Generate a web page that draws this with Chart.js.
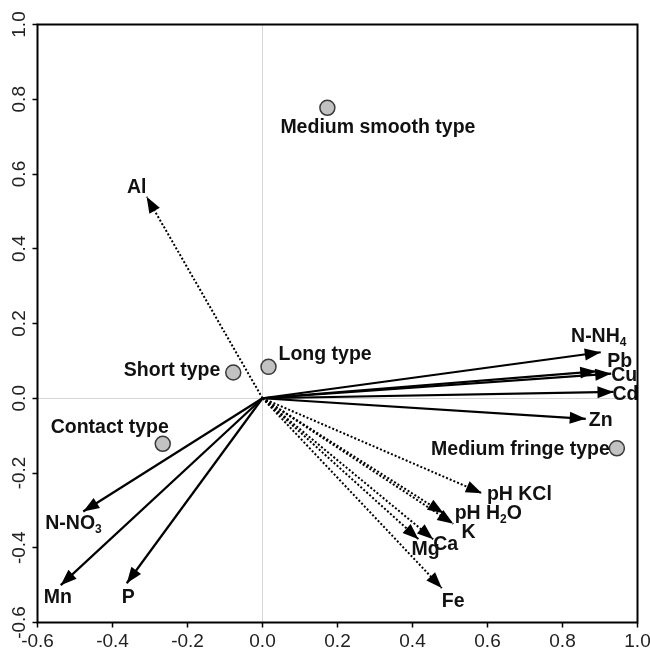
<!DOCTYPE html>
<html>
<head>
<meta charset="utf-8">
<script src="https://cdn.jsdelivr.net/npm/chart.js@4/dist/chart.umd.min.js"></script>
<style>
  html, body { margin: 0; padding: 0; background: #fff; }
  #wrap { width: 650px; height: 653px; }
</style>
</head>
<body>
<div id="wrap"><canvas id="biplot" width="650" height="653"></canvas></div>
<script>
// Ordination axes: tick labels
const tickValues = [-0.6, -0.4, -0.2, 0.0, 0.2, 0.4, 0.6, 0.8, 1.0];

// Environmental variables drawn with solid arrows
const solidNames = ['N-NH4', 'Pb', 'Cu', 'Cd', 'Zn', 'N-NO3', 'Mn', 'P'];
const solidX = [0.902, 0.890, 0.930, 0.936, 0.862, -0.478, -0.538, -0.362];
const solidY = [0.123, 0.072, 0.066, 0.017, -0.055, -0.303, -0.500, -0.495];

// Environmental variables drawn with dotted arrows
const dottedNames = ['Al', 'pH KCl', 'pH H2O', 'K', 'Ca', 'Mg', 'Fe'];
const dottedX = [-0.309, 0.585, 0.483, 0.509, 0.455, 0.416, 0.478];
const dottedY = [0.539, -0.254, -0.308, -0.336, -0.377, -0.377, -0.508];

// Root types (site scores)
const typeNames = ['Medium smooth type', 'Short type', 'Long type', 'Contact type', 'Medium fringe type'];
const typeX = [0.173, -0.078, 0.016, -0.266, 0.945];
const typeY = [0.777, 0.069, 0.084, -0.122, -0.134];

// Label placement relative to arrow tip / point centre (pixels, baseline)
const labelLayout = {
  'N-NH4': { align: 'center', dx: -2, dy: -10 },
  'Pb': { align: 'left', dx: 11, dy: -4 },
  'Cu': { align: 'left', dx: 0, dy: 7 },
  'Cd': { align: 'left', dx: -1, dy: 8 },
  'Zn': { align: 'left', dx: 3, dy: 7 },
  'N-NO3': { align: 'left', dx: -38, dy: 18 },
  'Mn': { align: 'left', dx: -17, dy: 18 },
  'P': { align: 'left', dx: -5, dy: 20 },
  'Al': { align: 'center', dx: -10, dy: -4 },
  'pH KCl': { align: 'left', dx: 5, dy: 7 },
  'pH H2O': { align: 'left', dx: 11, dy: 6 },
  'K': { align: 'left', dx: 8, dy: 14 },
  'Ca': { align: 'left', dx: 0, dy: 11 },
  'Mg': { align: 'left', dx: -7, dy: 16 },
  'Fe': { align: 'left', dx: 0, dy: 19 },
  'Medium smooth type': { align: 'left', dx: -47, dy: 25 },
  'Short type': { align: 'right', dx: -13, dy: 4 },
  'Long type': { align: 'left', dx: 10, dy: -7 },
  'Contact type': { align: 'right', dx: 6, dy: -11 },
  'Medium fringe type': { align: 'right', dx: -7, dy: 7 }
};

// Chemical formulas with a subscript part
const richText = {
  'N-NH4': ['N-NH', '4', ''],
  'N-NO3': ['N-NO', '3', ''],
  'pH H2O': ['pH H', '2', 'O']
};

const LABEL_FONT = 'bold 19.5px "Liberation Sans", Arial, sans-serif';
const SUB_FONT = 'bold 12px "Liberation Sans", Arial, sans-serif';
const TICK_FONT_FAMILY = '"Liberation Sans", Arial, sans-serif';

function arrowDataset(name, x, y, dotted) {
  return {
    label: name,
    data: [{ x: 0, y: 0 }, { x: x, y: y }],
    showLine: true,
    borderColor: '#000',
    borderWidth: dotted ? 2 : 2.2,
    borderDash: dotted ? [2, 2] : [],
    pointRadius: 0,
    fill: false,
    arrow: true,
    arrowLabel: name
  };
}

const datasets = [];
datasets.push({
  label: 'types',
  data: typeX.map((x, i) => ({ x: x, y: typeY[i] })),
  pointRadius: 7.5,
  pointBackgroundColor: '#c2c2c2',
  pointBorderColor: '#3a3a3a',
  pointBorderWidth: 1.5,
  showLine: false,
  typeLabels: typeNames
});
solidNames.forEach((n, i) => datasets.push(arrowDataset(n, solidX[i], solidY[i], false)));
dottedNames.forEach((n, i) => datasets.push(arrowDataset(n, dottedX[i], dottedY[i], true)));

function fmt(v) {
  if (Math.abs(v) < 1e-9) return '0.0';
  return v.toFixed(1);
}

function drawLabel(ctx, text, x, y, align) {
  const parts = richText[text] || [text, '', ''];
  ctx.font = LABEL_FONT;
  const w0 = ctx.measureText(parts[0]).width;
  const w2 = ctx.measureText(parts[2]).width;
  ctx.font = SUB_FONT;
  const w1 = parts[1] ? ctx.measureText(parts[1]).width : 0;
  const total = w0 + w1 + w2;
  let left = x;
  if (align === 'center') left = x - total / 2;
  else if (align === 'right') left = x - total;
  ctx.textAlign = 'left';
  ctx.textBaseline = 'alphabetic';
  ctx.fillStyle = '#111';
  ctx.font = LABEL_FONT;
  ctx.fillText(parts[0], left, y);
  if (parts[1]) {
    ctx.font = SUB_FONT;
    ctx.fillText(parts[1], left + w0, y + 4);
  }
  if (parts[2]) {
    ctx.font = LABEL_FONT;
    ctx.fillText(parts[2], left + w0 + w1, y);
  }
}

const biplotDecor = {
  id: 'biplotDecor',
  afterDatasetsDraw(chart) {
    const ctx = chart.ctx;
    ctx.save();
    // arrow heads at the tip of every variable vector
    chart.data.datasets.forEach((ds, i) => {
      if (!ds.arrow) return;
      const meta = chart.getDatasetMeta(i);
      const p0 = meta.data[0], p1 = meta.data[1];
      const ang = Math.atan2(p1.y - p0.y, p1.x - p0.x);
      const len = 16, half = 6;
      ctx.beginPath();
      ctx.moveTo(p1.x, p1.y);
      ctx.lineTo(p1.x - len * Math.cos(ang) + half * Math.sin(ang), p1.y - len * Math.sin(ang) - half * Math.cos(ang));
      ctx.lineTo(p1.x - len * Math.cos(ang) - half * Math.sin(ang), p1.y - len * Math.sin(ang) + half * Math.cos(ang));
      ctx.closePath();
      ctx.fillStyle = '#000';
      ctx.fill();
    });
    // variable labels
    chart.data.datasets.forEach((ds, i) => {
      if (!ds.arrow) return;
      const tip = chart.getDatasetMeta(i).data[1];
      const lay = labelLayout[ds.arrowLabel];
      drawLabel(ctx, ds.arrowLabel, tip.x + lay.dx, tip.y + lay.dy, lay.align);
    });
    // root type labels
    chart.data.datasets.forEach((ds, i) => {
      if (!ds.typeLabels) return;
      const meta = chart.getDatasetMeta(i);
      ds.typeLabels.forEach((name, j) => {
        const pt = meta.data[j];
        const lay = labelLayout[name];
        drawLabel(ctx, name, pt.x + lay.dx, pt.y + lay.dy, lay.align);
      });
    });
    ctx.restore();
  },
  afterDraw(chart) {
    const ctx = chart.ctx;
    const a = chart.chartArea;
    ctx.save();
    // plot frame
    ctx.strokeStyle = '#000';
    ctx.lineWidth = 2;
    ctx.strokeRect(a.left, a.top, a.right - a.left, a.bottom - a.top);
    // vertical (rotated) tick labels of the y axis
    const ys = chart.scales.y;
    ctx.fillStyle = '#222';
    ctx.font = '19px ' + TICK_FONT_FAMILY;
    ctx.textAlign = 'center';
    ctx.textBaseline = 'alphabetic';
    ys.ticks.forEach(t => {
      const py = ys.getPixelForValue(t.value);
      ctx.save();
      ctx.translate(25, py);
      ctx.rotate(-Math.PI / 2);
      ctx.fillText(fmt(t.value), 0, 0);
      ctx.restore();
    });
    ctx.restore();
  }
};

const gridOpts = {
  color: c => (c.tick && Math.abs(c.tick.value) < 1e-9) ? '#d6d6d6' : 'rgba(0,0,0,0)',
  lineWidth: 1,
  drawTicks: true,
  tickLength: 5,
  tickColor: '#000',
  tickWidth: 1.5
};

new Chart(document.getElementById('biplot'), {
  type: 'scatter',
  data: { datasets: datasets },
  options: {
    responsive: false,
    devicePixelRatio: 1,
    animation: false,
    layout: { padding: { top: 24.5, right: 12.5, left: 0, bottom: 0 } },
    plugins: { legend: { display: false }, tooltip: { enabled: false } },
    scales: {
      x: {
        type: 'linear',
        min: tickValues[0],
        max: tickValues[tickValues.length - 1],
        afterBuildTicks: s => { s.ticks = tickValues.map(v => ({ value: v })); },
        afterFit: s => { s.height = 30.5; s.paddingLeft = 0; s.paddingRight = 0; },
        border: { display: false },
        grid: gridOpts,
        ticks: {
          callback: v => fmt(v),
          font: { size: 19, family: TICK_FONT_FAMILY },
          color: '#222',
          padding: 3,
          maxRotation: 0,
          autoSkip: false
        }
      },
      y: {
        type: 'linear',
        min: tickValues[0],
        max: tickValues[tickValues.length - 1],
        afterBuildTicks: s => { s.ticks = tickValues.map(v => ({ value: v })); },
        afterFit: s => { s.width = 37.5; s.paddingTop = 0; s.paddingBottom = 0; },
        border: { display: false },
        grid: gridOpts,
        ticks: { display: false }
      }
    }
  },
  plugins: [biplotDecor]
});
</script>
</body>
</html>
